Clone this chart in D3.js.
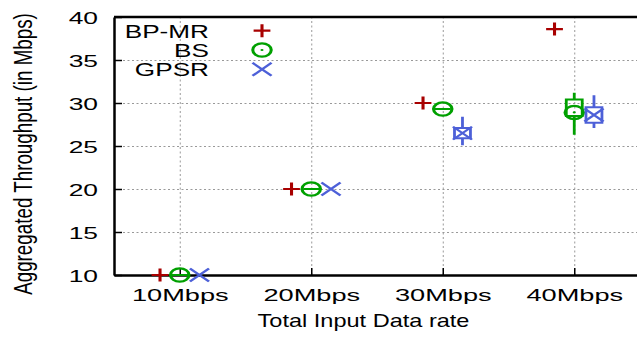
<!DOCTYPE html>
<html>
<head>
    <meta charset="utf-8">
    <title>Aggregated Throughput</title>
    <script src="https://d3js.org/d3.v7.min.js"></script>
    <style>
        body { margin: 0; background: #fff; }
        svg { display: block; font-family: "Liberation Sans", Arial, sans-serif; }
        .grid line { stroke: #999; stroke-width: 1; stroke-dasharray: 2,2.5; }
        .grid path { display: none; }
        .axis path { stroke: #000; stroke-width: 2.5; }
        .axis line { stroke: #000; stroke-width: 1.5; }
        .axis text { fill: #000; }
    </style>
</head>
<body>
    <div id="chart"></div>
    <script>
        // data
        const rates = [10, 20, 30, 40];
        const rateLabels = ['10Mbps', '20Mbps', '30Mbps', '40Mbps'];
        const yTicks = [10, 15, 20, 25, 30, 35, 40];
        const seriesNames = ['BP-MR', 'BS', 'GPSR'];

        const bpmrMean = [10, 20, 30.0, 38.6];

        const bsMean = [10, 20, 29.3, 28.9];
        const bsLow  = [10, 20, 29.3, 26.3];
        const bsQ1   = [10, 20, 29.3, 28.5];
        const bsQ3   = [10, 20, 29.3, 30.4];
        const bsHigh = [10, 20, 29.3, 31.2];

        const gpsrMean = [10, 20, 26.5, 28.6];
        const gpsrLow  = [null, null, 25.1, 27.1];
        const gpsrQ1   = [null, null, 25.9, 27.7];
        const gpsrQ3   = [null, null, 27.1, 29.5];
        const gpsrHigh = [null, null, 28.4, 30.9];

        const width = 637, height = 337;
        const mLeft = 114, mTop = 17, mBottom = 275, mRight = 640;
        const sx = 1.4; // the picture is stretched sideways

        const svg = d3.select('#chart').append('svg')
            .attr('width', width)
            .attr('height', height);

        const x = d3.scaleLinear().domain([5, 45]).range([mLeft, mRight]);
        const y = d3.scaleLinear().domain([10, 40]).range([mBottom, mTop]);

        // grid
        svg.append('g')
            .attr('class', 'grid')
            .attr('transform', `translate(${mLeft},0)`)
            .call(d3.axisLeft(y).tickValues(yTicks.slice(1, -1)).tickSize(-(mRight - mLeft)).tickFormat(''));
        svg.append('g')
            .attr('class', 'grid')
            .attr('transform', `translate(0,${mBottom})`)
            .call(d3.axisBottom(x).tickValues(rates).tickSize(-(mBottom - mTop)).tickFormat(''));

        // axes
        const yAxis = svg.append('g')
            .attr('class', 'axis')
            .attr('transform', `translate(${mLeft},0)`)
            .call(d3.axisLeft(y).tickValues(yTicks).tickSize(-8).tickSizeOuter(0));
        yAxis.selectAll('text')
            .attr('x', 0).attr('dy', 0).attr('y', 0)
            .attr('text-anchor', 'end')
            .attr('dominant-baseline', 'central')
            .attr('transform', `translate(-16,1) scale(1.6,1)`)
            .style('font-size', '16.5px');

        const xAxis = svg.append('g')
            .attr('class', 'axis')
            .attr('transform', `translate(0,${mBottom})`)
            .call(d3.axisBottom(x).tickValues(rates).tickFormat((d, i) => rateLabels[i]).tickSize(-7).tickSizeOuter(0));
        xAxis.selectAll('text')
            .attr('y', 0).attr('dy', 0)
            .attr('transform', `translate(0,26) scale(1.6,1)`)
            .style('font-size', '17px');

        svg.append('line')
            .attr('x1', mLeft).attr('x2', mRight)
            .attr('y1', mTop).attr('y2', mTop)
            .attr('stroke', '#000').attr('stroke-width', 2.5);

        // axis titles
        svg.append('text')
            .attr('transform', `translate(363.5,327) scale(1.33,1)`)
            .attr('text-anchor', 'middle')
            .style('font-size', '17.7px')
            .text('Total Input Data rate');

        svg.append('text')
            .attr('transform', `translate(31.8,154) scale(1.39,1) rotate(-90)`)
            .attr('text-anchor', 'middle')
            .style('font-size', '18.8px')
            .text('Aggregated Throughput (in Mbps)');

        const colors = ['#a80000', '#00a000', '#4d60d8'];

        // marker shapes in local units, scaled by sx
        function marker(g, type, color) {
            if (type === 0) {
                g.append('path').attr('d', 'M-6,0H6M0,-6.5V6.5')
                    .attr('stroke', color).attr('stroke-width', 2.2).attr('fill', 'none');
            } else if (type === 1) {
                g.append('circle').attr('r', 6.6)
                    .attr('stroke', color).attr('stroke-width', 2.2).attr('fill', 'none');
                g.append('circle').attr('r', 1.1).attr('fill', color);
            } else {
                g.append('path').attr('d', 'M-6.8,-6.5L6.8,6.5M-6.8,6.5L6.8,-6.5')
                    .attr('stroke', color).attr('stroke-width', 2).attr('fill', 'none');
            }
        }

        const series = [
            { mean: bpmrMean },
            { mean: bsMean, low: bsLow, q1: bsQ1, q3: bsQ3, high: bsHigh },
            { mean: gpsrMean, low: gpsrLow, q1: gpsrQ1, q3: gpsrQ3, high: gpsrHigh }
        ];

        series.forEach((s, si) => {
            const off = (si - 1) * 1.5;
            const g = svg.append('g');
            if (s.low) {
                rates.forEach((r, i) => {
                    if (s.low[i] == null) return;
                    const b = g.append('g')
                        .attr('transform', `translate(${x(r + off)},0) scale(${sx},1)`);
                    b.append('path')
                        .attr('d', `M0,${y(s.high[i])}V${y(s.q3[i])}M0,${y(s.q1[i])}V${y(s.low[i])}`)
                        .attr('stroke', colors[si]).attr('stroke-width', 2).attr('fill', 'none');
                    b.append('path')
                        .attr('d', `M-5.7,${y(s.q3[i])}H5.7V${y(s.q1[i])}H-5.7Z`)
                        .attr('stroke', colors[si]).attr('stroke-width', 2).attr('fill', 'none');
                });
            }
            rates.forEach((r, i) => {
                const m = g.append('g')
                    .attr('transform', `translate(${x(r + off)},${y(s.mean[i])}) scale(${sx},1)`);
                marker(m, si, colors[si]);
            });
        });

        // legend
        const legend = svg.append('g');
        seriesNames.forEach((name, i) => {
            const ly = 30.7 + i * 19.3;
            legend.append('text')
                .attr('transform', `translate(209,${ly + 7}) scale(1.4,1)`)
                .attr('text-anchor', 'end')
                .style('font-size', '18.7px')
                .text(name);
            const m = legend.append('g')
                .attr('transform', `translate(262,${ly}) scale(${sx},1)`);
            marker(m, i, colors[i]);
        });
    </script>
</body>
</html>
